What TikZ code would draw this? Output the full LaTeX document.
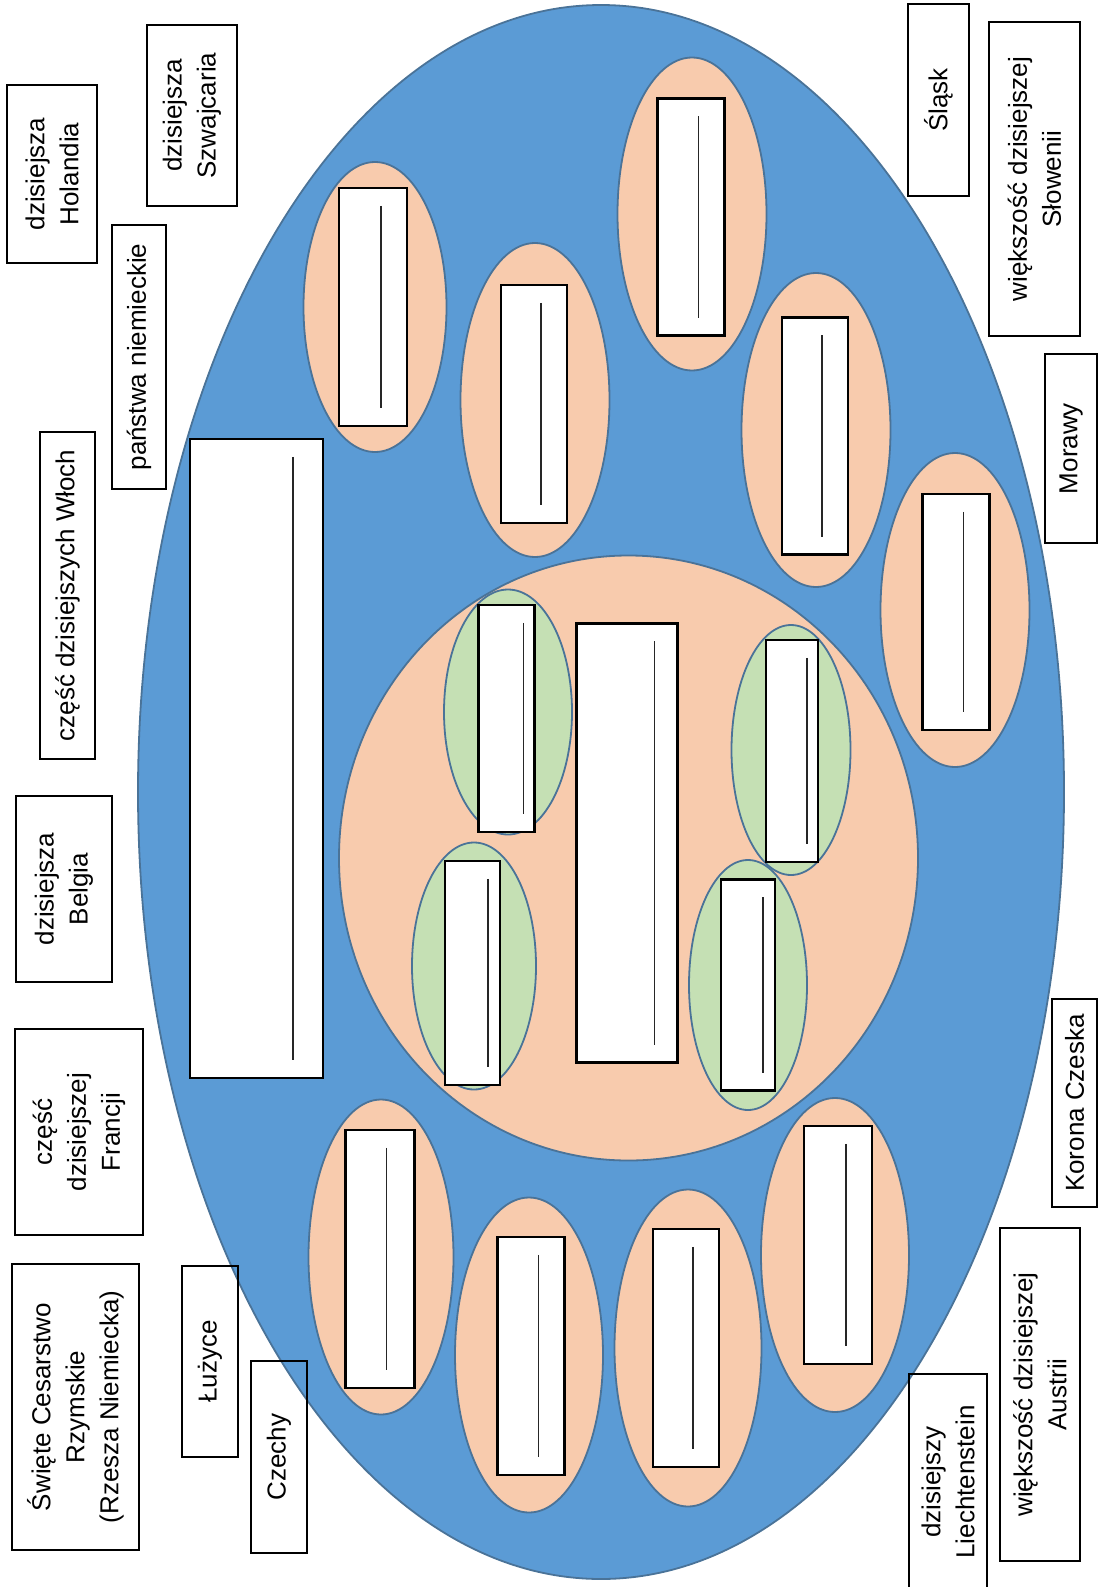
\documentclass[tikz,border=0pt]{standalone}
\usepackage{fontspec}
\setmainfont{Liberation Sans}
\usetikzlibrary{shapes.geometric}

\definecolor{oceanblue}{HTML}{5B9BD5}
\definecolor{peach}{HTML}{F8CBAD}
\definecolor{sage}{HTML}{C5E0B4}
\definecolor{rimblue}{HTML}{4A7398}

\begin{document}
\begin{tikzpicture}[
                x = 1pt, y = -1pt, % one unit per pixel, y downwards
                font = \fontsize{26}{34}\selectfont % label text
            ]

            \tikzstyle{oval}=[ellipse, draw = rimblue, line width = 1.8pt,
            inner sep = 0pt]
            \tikzstyle{land}=[oval, fill = peach]
            \tikzstyle{duchy}=[oval, fill = sage]
            \tikzstyle{blank}=[draw = black, fill = white, line width = 2.2pt,
            inner sep = 0pt]
            \tikzstyle{blankline}=[draw = black!85, line width = 1.5pt]
            \tikzstyle{tag}=[draw = black, line width = 2pt, rotate = 90,
            align = center, inner sep = 0pt]

            \useasboundingbox (0,0) rectangle (1105,1587);

            % empire and the lands in it
            \node (emp) [oval, fill = oceanblue, minimum width = 926,
            minimum height = 1574] at (601,792) {};
            \node (l1) [land, minimum width = 143, minimum height = 290] at (375,307) {};
            \node (l2) [land, minimum width = 149, minimum height = 314] at (535,400) {};
            \node (l3) [land, minimum width = 149, minimum height = 313] at (692,214) {};
            \node (l4) [land, minimum width = 149, minimum height = 314] at (816,430) {};
            \node (l5) [land, minimum width = 149, minimum height = 314] at (955,610) {};
            \node (l6) [land, minimum width = 145, minimum height = 315] at (381,1257) {};
            \node (l7) [land, minimum width = 148, minimum height = 315] at (529,1355) {};
            \node (l8) [land, minimum width = 147, minimum height = 317] at (688,1348) {};
            \node (l9) [land, minimum width = 148, minimum height = 314] at (835,1255) {};
            \node (core) [land, minimum width = 579, minimum height = 605] at (628.5,858) {};
            \node (d1) [duchy, minimum width = 128, minimum height = 245] at (508,712) {};
            \node (d2) [duchy, minimum width = 124, minimum height = 247] at (474,966) {};
            \node (d3) [duchy, minimum width = 119, minimum height = 250] at (791,750) {};
            \node (d4) [duchy, minimum width = 118, minimum height = 250] at (748,985) {};

            % empty boxes to fill in
            \node (b1) [blank, minimum width = 68, minimum height = 238] at (373,307) {};
            \node (b2) [blank, minimum width = 66, minimum height = 238] at (534,404) {};
            \node (b3) [blank, minimum width = 67, minimum height = 237] at (691,217) {};
            \node (b4) [blank, minimum width = 66, minimum height = 237] at (815,436) {};
            \node (b5) [blank, minimum width = 67, minimum height = 236] at (956,612) {};
            \node (b6) [blank, minimum width = 69, minimum height = 258] at (380,1259) {};
            \node (b7) [blank, minimum width = 67, minimum height = 238] at (531,1356) {};
            \node (b8) [blank, minimum width = 66, minimum height = 238] at (686,1348) {};
            \node (b9) [blank, minimum width = 68, minimum height = 238] at (838,1245) {};
            \node (g1) [blank, minimum width = 56, minimum height = 227] at (506.5,718.5) {};
            \node (g2) [blank, minimum width = 55, minimum height = 224] at (472.6,973) {};
            \node (g3) [blank, minimum width = 52, minimum height = 222] at (792,751) {};
            \node (g4) [blank, minimum width = 54, minimum height = 211] at (748,985) {};
            \node (c0) [blank, minimum width = 101, minimum height = 439] at (627,843) {};
            \node (w0) [blank, minimum width = 133, minimum height = 639] at (256.5,758.5) {};

            \path[blankline] ([xshift=-27pt,yshift=-19pt]b1.north east) edge ([xshift=-27pt,yshift=19pt]b1.south east);
            \path[blankline] ([xshift=-27pt,yshift=-19pt]b2.north east) edge ([xshift=-27pt,yshift=19pt]b2.south east);
            \path[blankline] ([xshift=-27pt,yshift=-19pt]b3.north east) edge ([xshift=-27pt,yshift=19pt]b3.south east);
            \path[blankline] ([xshift=-27pt,yshift=-19pt]b4.north east) edge ([xshift=-27pt,yshift=19pt]b4.south east);
            \path[blankline] ([xshift=-27pt,yshift=-19pt]b5.north east) edge ([xshift=-27pt,yshift=19pt]b5.south east);
            \path[blankline] ([xshift=-29pt,yshift=-19pt]b6.north east) edge ([xshift=-29pt,yshift=19pt]b6.south east);
            \path[blankline] ([xshift=-27pt,yshift=-19pt]b7.north east) edge ([xshift=-27pt,yshift=19pt]b7.south east);
            \path[blankline] ([xshift=-27pt,yshift=-19pt]b8.north east) edge ([xshift=-27pt,yshift=19pt]b8.south east);
            \path[blankline] ([xshift=-27pt,yshift=-19pt]b9.north east) edge ([xshift=-27pt,yshift=19pt]b9.south east);
            \path[blankline] ([xshift=-12pt,yshift=-19pt]g1.north east) edge ([xshift=-12pt,yshift=19pt]g1.south east);
            \path[blankline] ([xshift=-13pt,yshift=-19pt]g2.north east) edge ([xshift=-13pt,yshift=19pt]g2.south east);
            \path[blankline] ([xshift=-12pt,yshift=-19pt]g3.north east) edge ([xshift=-12pt,yshift=19pt]g3.south east);
            \path[blankline] ([xshift=-13pt,yshift=-19pt]g4.north east) edge ([xshift=-13pt,yshift=19pt]g4.south east);
            \path[blankline] ([xshift=-24pt,yshift=-19pt]c0.north east) edge ([xshift=-24pt,yshift=19pt]c0.south east);
            \path[blankline] ([xshift=-31pt,yshift=-19pt]w0.north east) edge ([xshift=-31pt,yshift=19pt]w0.south east);

            % names to place
            \node (hol) [tag, minimum width = 178, minimum height = 90] at (52,174) {dzisiejsza\\Holandia};
            \node (szw) [tag, minimum width = 181, minimum height = 90] at (192,115.5) {dzisiejsza\\Szwajcaria};
            \node (pan) [tag, minimum width = 264, minimum height = 54] at (139,357) {państwa niemieckie};
            \node (wlo) [tag, minimum width = 327, minimum height = 55] at (67.5,595.5) {część dzisiejszych Włoch};
            \node (bel) [tag, minimum width = 186, minimum height = 96] at (64,889) {dzisiejsza\\Belgia};
            \node (fra) [tag, minimum width = 206, minimum height = 128] at (79,1132) {część\\dzisiejszej\\Francji};
            \node (hre) [tag, minimum width = 286, minimum height = 127] at (75.5,1407) {Święte Cesarstwo\\Rzymskie\\(Rzesza Niemiecka)};
            \node (luz) [tag, minimum width = 191, minimum height = 56] at (210,1361.5) {Łużyce};
            \node (cze) [tag, minimum width = 192, minimum height = 56] at (279,1457) {Czechy};
            \node (sla) [tag, minimum width = 192, minimum height = 61] at (938.5,100) {Śląsk};
            \node (slo) [tag, minimum width = 314, minimum height = 91] at (1034.5,179) {większość dzisiejszej\\Słowenii};
            \node (mor) [tag, minimum width = 189, minimum height = 52] at (1071,448.5) {Morawy};
            \node (kor) [tag, minimum width = 208, minimum height = 45] at (1074.5,1103) {Korona Czeska};
            \node (aus) [tag, minimum width = 333, minimum height = 80] at (1040,1394.5) {większość dzisiejszej\\Austrii};
            \node (lie) [tag, minimum width = 216, minimum height = 78] at (948,1482) {dzisiejszy\\Liechtenstein};

        \end{tikzpicture}
\end{document}
